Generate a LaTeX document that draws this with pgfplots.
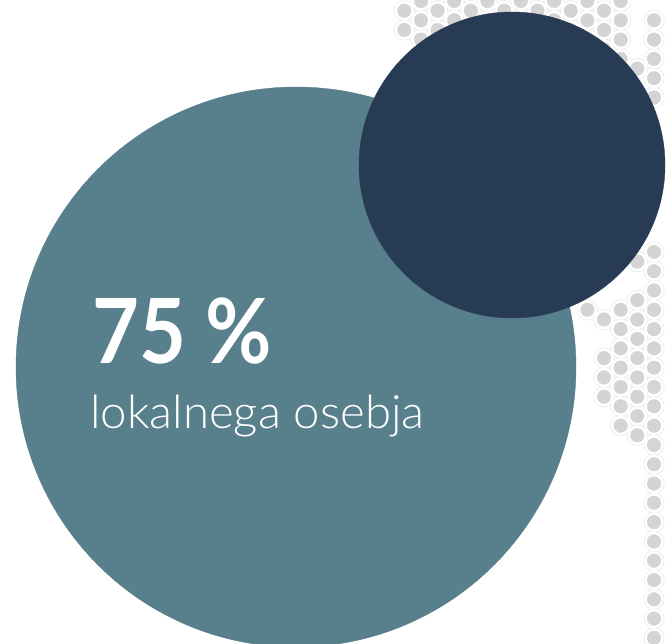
\documentclass[border=0pt]{standalone}
\usepackage{pgfplots}
\pgfplotsset{compat=1.18}
\usepackage{pgfplotstable}
\usepackage{fontspec}
\setmainfont{Lato}
\newfontfamily\latolight{Lato Light}
\definecolor{tealc}{HTML}{58808C}
\definecolor{navyc}{HTML}{273C54}
\definecolor{dotc}{HTML}{D4D4D4}
\definecolor{haloc}{HTML}{ECECEC}
\pgfplotstableread{
x y
404.3 10.7
404.3 30.0
421.0 1.0
421.0 20.3
421.0 39.6
437.6 10.7
437.6 30.0
454.2 1.0
454.2 20.3
470.9 10.7
470.9 30.0
487.5 1.0
487.5 20.3
504.2 10.7
520.8 1.0
520.8 20.3
537.5 10.7
554.1 1.0
554.1 20.3
570.8 10.7
570.8 30.0
587.4 1.0
587.4 20.3
587.4 39.6
604.0 10.7
604.0 30.0
604.0 49.3
620.7 1.0
620.7 20.3
620.7 39.6
620.7 58.9
637.3 68.6
654.0 20.3
654.0 39.6
654.0 58.9
654.0 78.2
654.0 97.5
670.6 10.7
670.6 30.0
670.6 49.3
670.6 68.6
670.6 87.9
587.4 309.8
604.0 319.5
604.0 358.1
604.0 377.4
604.0 396.7
620.7 309.8
620.7 329.1
620.7 348.4
620.7 367.7
620.7 387.0
620.7 406.3
620.7 425.6
637.3 261.6
637.3 300.2
637.3 319.5
637.3 338.8
637.3 358.1
637.3 377.4
637.3 396.7
637.3 416.0
637.3 435.3
654.0 251.9
654.0 271.2
654.0 290.5
654.0 309.8
654.0 329.1
654.0 348.4
654.0 367.7
654.0 387.0
654.0 406.3
654.0 425.6
654.0 444.9
654.0 464.2
654.0 483.5
654.0 502.8
654.0 522.1
654.0 541.4
654.0 560.7
654.0 580.0
654.0 599.3
654.0 618.6
654.0 637.9
670.6 261.6
670.6 280.9
670.6 300.2
670.6 319.5
670.6 338.8
670.6 358.1
670.6 377.4
670.6 396.7
670.6 416.0
670.6 435.3
670.6 454.6
670.6 473.9
670.6 493.2
670.6 512.5
670.6 531.8
670.6 551.1
670.6 570.4
670.6 589.7
670.6 609.0
670.6 628.3
670.6 647.6
}\dots
\begin{document}
\begin{tikzpicture}
\begin{axis}[x=1pt, y=1pt, y dir=reverse,
  xmin=0, xmax=667, ymin=0, ymax=643,
  hide axis, clip=true, clip marker paths=true,
  axis background/.style={fill=white}]
\addplot[only marks, mark=*, mark size=10.3pt, color=haloc, mark options={draw=none}] table {\dots};
\addplot[only marks, mark=*, mark size=9.5pt, color=white, mark options={draw=none}] table {\dots};
\addplot[only marks, mark=*, mark size=6.8pt, color=dotc, mark options={draw=none}] table {\dots};
\addplot[only marks, mark=*, mark size=280pt, color=tealc, mark options={draw=none}] coordinates {(296,367)};
\addplot[only marks, mark=*, mark size=153pt, color=navyc, mark options={draw=none}] coordinates {(512,165)};
\node[anchor=base west, inner sep=0pt, text=white, font=\fontsize{90}{90}\selectfont\bfseries] at (axis cs:92,363) {\scalebox{0.9}[1]{75 \%}};
\node[anchor=base west, inner sep=0pt, text=white, font=\fontsize{46}{46}\selectfont\latolight] at (axis cs:90,428) {\scalebox{1.03}[1]{lokalnega osebja}};
\end{axis}
\end{tikzpicture}
\end{document}
